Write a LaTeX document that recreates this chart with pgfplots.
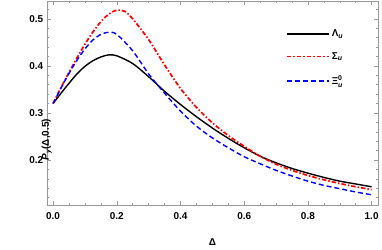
\documentclass[border=0pt]{standalone}
\usepackage{pgfplots}
\pgfplotsset{compat=1.18}
\usepackage{fontspec}
\setmainfont{Liberation Sans}
\definecolor{mred}{rgb}{1,0,0}
\definecolor{mblue}{rgb}{0,0,1}
\tikzset{
  sigstyle/.style={color=mred, line width=1.7bp, dash pattern={on 4.5bp off 2bp on 1.5bp off 2bp}},
}
\begin{document}
\begin{tikzpicture}
\useasboundingbox (-46.7bp,-45bp) rectangle (335.3bp,205bp);
\begin{axis}[
  at={(0,0)}, anchor=south west,
  scale only axis, width=331.3bp, height=204bp,
  xmin=-0.02, xmax=1.02, ymin=0.1043, ymax=0.538,
  xtick={0,0.2,0.4,0.6,0.8,1.0},
  ytick={0.2,0.3,0.4,0.5},
  minor xtick={0.05,0.1,0.15,0.25,0.3,0.35,0.45,0.5,0.55,0.65,0.7,0.75,0.85,0.9,0.95},
  minor ytick={0.12,0.14,0.16,0.18,0.22,0.24,0.26,0.28,0.32,0.34,0.36,0.38,0.42,0.44,0.46,0.48,0.52},
  tick align=inside,
  major tick length=4bp, minor tick length=2.5bp,
  axis line style={draw=gray!80},
  every tick/.style={gray!80, line width=0.5pt},
  /pgf/number format/assume math mode=true,
  /pgf/number format/.cd, fixed, fixed zerofill, precision=1, /pgfplots/.cd,
  ticklabel style={font=\bfseries},
  xticklabel style={yshift=-4bp},
  xlabel={\bfseries Δ},
  ylabel={\bfseries\itshape P\textsubscript{y}\upshape(Δ,0.5)},
  x label style={at={(axis description cs:0.5,0)}, anchor=center, yshift=-37bp},
  y label style={at={(axis description cs:0,0.5)}, anchor=center, xshift=-36.7bp},
  legend style={draw=none, fill=none, at={(axis description cs:0.713,0.88)}, anchor=north west, row sep=10.5bp},
  legend cell align=left,
]
\addplot[mark=none, color=black, line width=1.4bp, smooth, legend image code/.code={\draw[color=black, line width=1.4bp] (0bp,0bp) -- (42bp,0bp);}] coordinates {
(0,0.320) (0.025,0.342) (0.05,0.363) (0.075,0.383) (0.10,0.399) (0.125,0.411) (0.15,0.419) (0.175,0.4235) (0.20,0.4215) (0.25,0.405) (0.30,0.377) (0.35,0.346) (0.40,0.318) (0.45,0.292) (0.50,0.268) (0.55,0.246) (0.60,0.226) (0.65,0.208) (0.70,0.194) (0.75,0.182) (0.80,0.172) (0.85,0.163) (0.90,0.155) (0.95,0.149) (1.00,0.143)
};
\addlegendentry{\textbf{Λ}\textsubscript{\bfseries\itshape u}}
\addplot[mark=none, sigstyle, smooth, legend image code/.code={\draw[sigstyle] (0bp,0.3bp) -- (42bp,0.3bp);}] coordinates {
(0,0.320) (0.025,0.354) (0.05,0.386) (0.075,0.417) (0.10,0.446) (0.125,0.472) (0.15,0.494) (0.175,0.510) (0.20,0.5185) (0.225,0.516) (0.25,0.500) (0.30,0.456) (0.35,0.402) (0.40,0.352) (0.45,0.312) (0.50,0.279) (0.55,0.252) (0.60,0.229) (0.65,0.208) (0.70,0.191) (0.75,0.178) (0.80,0.167) (0.85,0.158) (0.90,0.150) (0.95,0.143) (1.00,0.137)
};
\addlegendentry{\textbf{Σ}\textsubscript{\bfseries\itshape u}}
\addplot[mark=none, color=mblue, dash pattern={on 5bp off 3bp}, line width=1.4bp, smooth, legend image code/.code={\draw[color=mblue, dash pattern={on 5bp off 3bp}, line width=1.4bp] (0bp,0bp) -- (42bp,0bp);}] coordinates {
(0,0.320) (0.025,0.353) (0.05,0.384) (0.075,0.412) (0.10,0.436) (0.125,0.455) (0.15,0.467) (0.175,0.4715) (0.20,0.467) (0.25,0.432) (0.30,0.383) (0.35,0.342) (0.40,0.304) (0.45,0.272) (0.50,0.247) (0.55,0.226) (0.60,0.207) (0.65,0.192) (0.70,0.178) (0.75,0.166) (0.80,0.155) (0.85,0.146) (0.90,0.139) (0.95,0.132) (1.00,0.126)
};
\addlegendentry{\textbf{Ξ}\makebox[0pt][l]{\raisebox{0.9ex}{\scriptsize\bfseries 0}}\raisebox{-0.5ex}{\scriptsize\bfseries\itshape u}}
\end{axis}
\end{tikzpicture}
\end{document}
